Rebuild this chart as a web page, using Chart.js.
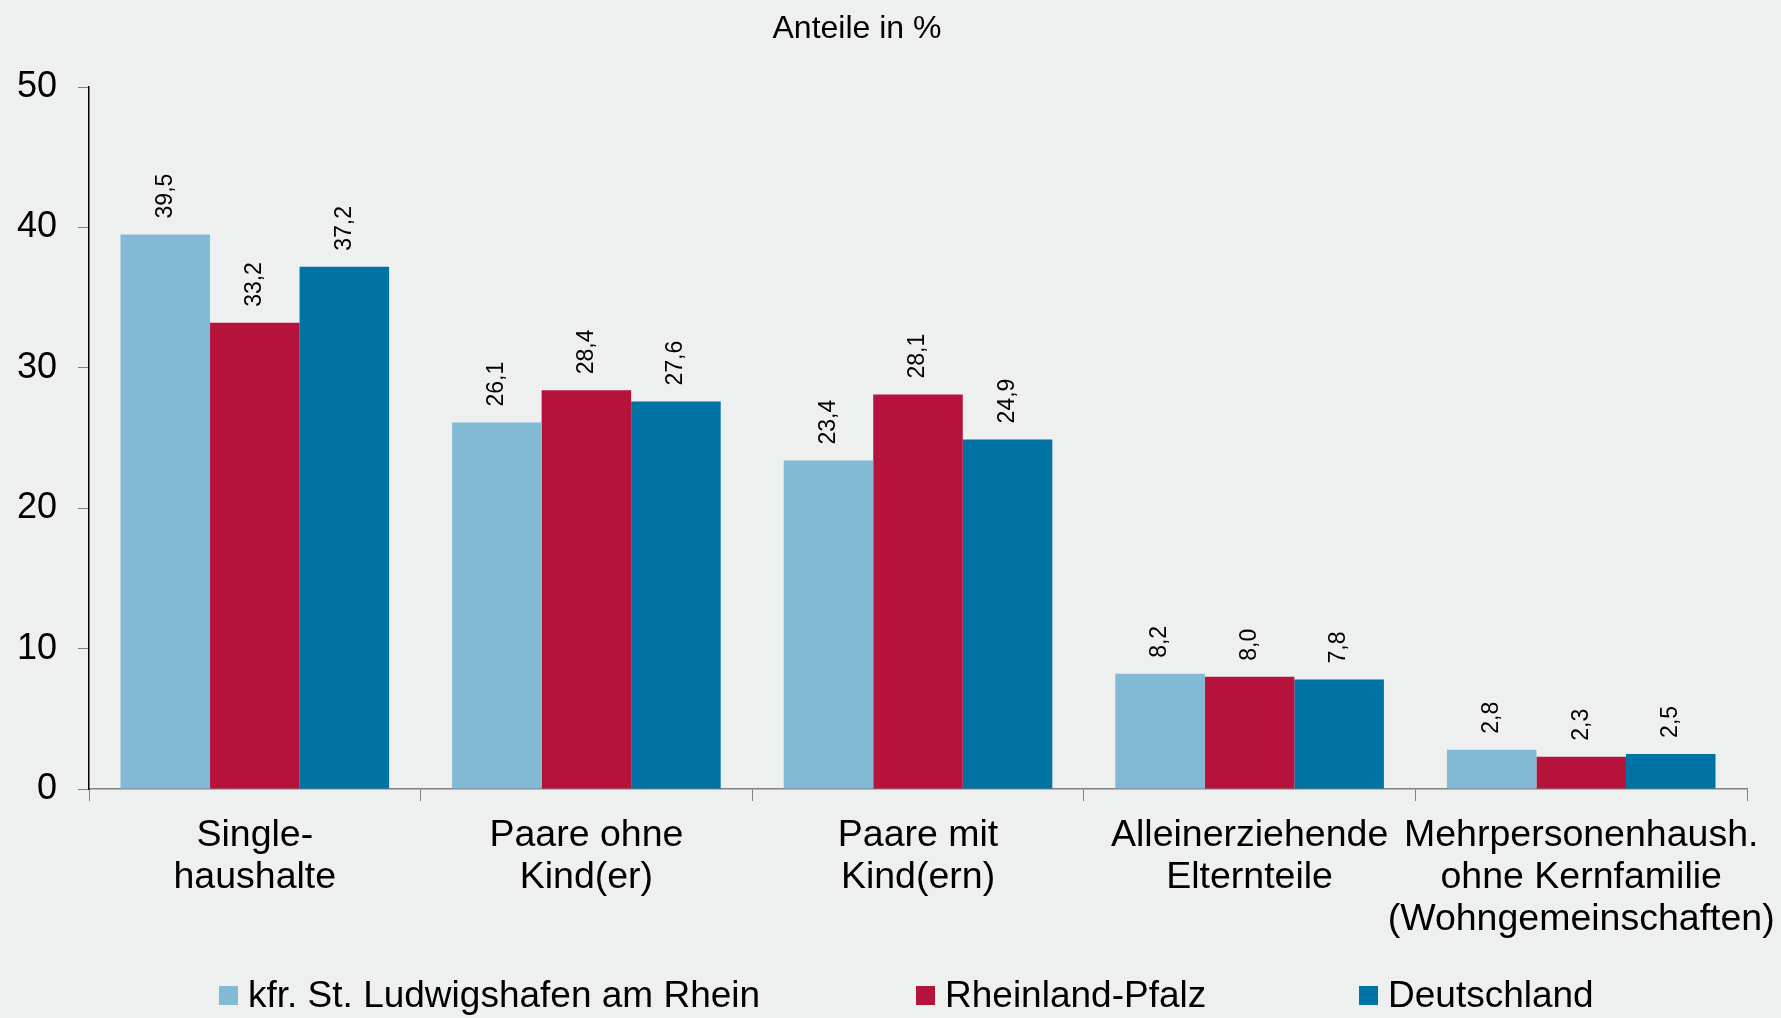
<!DOCTYPE html>
<html>
<head>
<meta charset="utf-8">
<script src="https://cdn.jsdelivr.net/npm/chart.js@4/dist/chart.umd.min.js"></script>
<style>
  html, body { margin: 0; padding: 0; background: #eef0ef; }
  #wrap { width: 1781px; height: 1018px; }
</style>
</head>
<body>
<div id="wrap"><canvas id="chart" width="1781" height="1018"></canvas></div>
<script>
const categories = [
  ['Single-', 'haushalte'],
  ['Paare ohne', 'Kind(er)'],
  ['Paare mit', 'Kind(ern)'],
  ['Alleinerziehende', 'Elternteile'],
  ['Mehrpersonenhaush.', 'ohne Kernfamilie', '(Wohngemeinschaften)']
];
const seriesNames = ['kfr. St. Ludwigshafen am Rhein', 'Rheinland-Pfalz', 'Deutschland'];
const ludwigshafen = [39.5, 26.1, 23.4, 8.2, 2.8];
const rheinlandPfalz = [33.2, 28.4, 28.1, 8.0, 2.3];
const deutschland = [37.2, 27.6, 24.9, 7.8, 2.5];
const yTicks = [0, 10, 20, 30, 40, 50];
const titleText = 'Anteile in %';

const colors = ['#82b9d5', '#b5123c', '#0072a4'];
const FONT = '"Liberation Sans", Arial, sans-serif';

const fmt = v => v.toFixed(1).replace('.', ',');

// value labels above bars (rotated), title and legend
const extras = {
  id: 'extras',
  afterDatasetsDraw(chart) {
    const ctx = chart.ctx;
    ctx.save();
    ctx.fillStyle = '#000';
    ctx.font = '23px ' + FONT;
    ctx.textAlign = 'left';
    ctx.textBaseline = 'middle';
    chart.data.datasets.forEach((ds, i) => {
      chart.getDatasetMeta(i).data.forEach((bar, j) => {
        ctx.save();
        ctx.translate(bar.x, bar.y - 16);
        ctx.rotate(-Math.PI / 2);
        ctx.fillText(fmt(ds.data[j]), 0, 0);
        ctx.restore();
      });
    });
    ctx.restore();
  },
  afterDraw(chart) {
    const ctx = chart.ctx;
    ctx.save();
    ctx.fillStyle = '#000';
    ctx.font = '32px ' + FONT;
    ctx.textAlign = 'center';
    ctx.textBaseline = 'middle';
    ctx.fillText(titleText, 857, 29);

    // legend
    const xs = [219, 916, 1359];
    ctx.font = '37px ' + FONT;
    ctx.textAlign = 'left';
    chart.data.datasets.forEach((ds, i) => {
      ctx.fillStyle = ds.backgroundColor;
      ctx.fillRect(xs[i], 986, 19, 19);
      ctx.fillStyle = '#000';
      ctx.fillText(ds.label, xs[i] + 29, 997);
    });
    ctx.restore();
  }
};

new Chart(document.getElementById('chart'), {
  type: 'bar',
  data: {
    labels: categories,
    datasets: [
      { label: seriesNames[0], data: ludwigshafen, backgroundColor: colors[0] },
      { label: seriesNames[1], data: rheinlandPfalz, backgroundColor: colors[1] },
      { label: seriesNames[2], data: deutschland, backgroundColor: colors[2] }
    ]
  },
  options: {
    responsive: false,
    animation: false,
    devicePixelRatio: 1,
    layout: { padding: { left: 0, right: 34, top: 87, bottom: 0 } },
    datasets: { bar: { barPercentage: 1, categoryPercentage: 0.81 } },
    plugins: {
      legend: { display: false },
      title: { display: false },
      tooltip: { enabled: false }
    },
    scales: {
      x: {
        grid: { offset: true, drawOnChartArea: false, tickLength: 12, color: '#808080' },
        border: { color: '#808080', width: 1.5 },
        ticks: {
          color: '#000',
          font: { family: FONT, size: 37.5, lineHeight: 1.13 },
          padding: 13,
          maxRotation: 0,
          autoSkip: false
        },
        afterFit(scale) {
          scale.height = 229;
          scale.paddingLeft = 0;
          scale.paddingRight = 0;
        }
      },
      y: {
        min: 0,
        max: 50,
        afterBuildTicks(scale) { scale.ticks = yTicks.map(v => ({ value: v })); },
        grid: { drawOnChartArea: false, tickLength: 11, color: '#808080' },
        border: { color: '#000', width: 1.5 },
        ticks: {
          color: '#000',
          font: { family: FONT, size: 36 },
          padding: 21
        },
        afterFit(scale) { scale.width = 89; }
      }
    }
  },
  plugins: [extras]
});
</script>
</body>
</html>
